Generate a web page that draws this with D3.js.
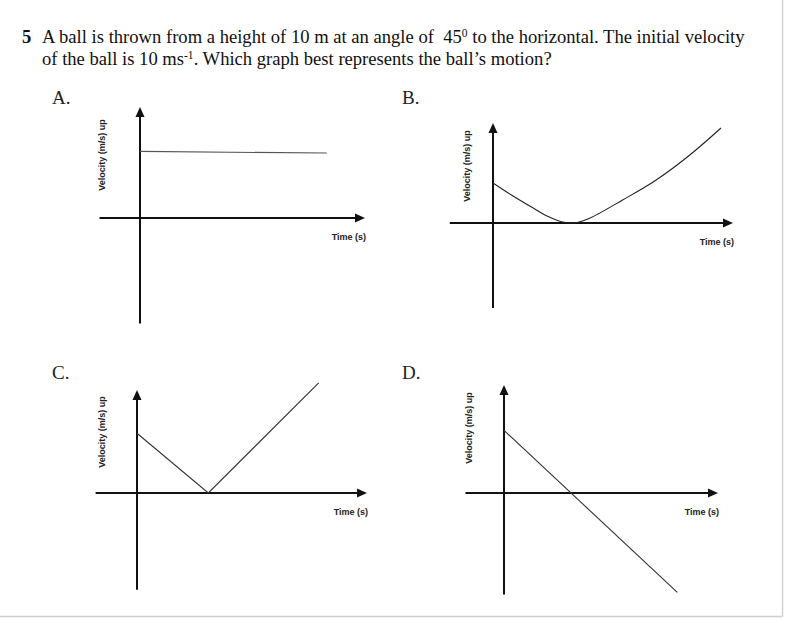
<!DOCTYPE html>
<html><head><meta charset="utf-8">
<script src="https://cdn.jsdelivr.net/npm/d3@7"></script>
<style>body{margin:0;background:#fff}svg{display:block}</style>
</head><body>
<svg id="c" width="785" height="618"></svg>
<script>
// ---- data ----
const panelNames = ["A.", "B.", "C.", "D."];
const timeA = [0, 8.3];
const velA  = [6.0, 5.85];
const timeB = [0, 0.8, 1.6, 2.3, 2.9, 3.4, 4.0, 5.4, 6.8, 8.2, 9.5];
const velB  = [4.0, 2.75, 1.6, 0.65, 0.1, 0, 0.45, 2.3, 4.3, 6.8, 9.5];
const timeC = [0, 3.1, 7.9];
const velC  = [5.8, 0, 10.7];
const timeD = [0, 8.1];
const velD  = [5.8, -9.2];
const axisTimeMin = -1.8, axisTimeMax = 10;
const axisVelMax = 10;
const axisVelMin = [-9.5, -8.5, -9.4, -9.4];
const xLabel = "Time (s)";
const yLabel = "Velocity (m/s) up";
const questionNo = "5";

// ---- layout ----
const layout = [
  {ox:140, tx:365, oy:218, ty:107, lx:52,  ly:104, ylx:105, yly:155, curve:d3.curveLinear, stroke:"#555"},
  {ox:493, tx:733, oy:223, ty:123, lx:402, ly:104, ylx:470, yly:166, curve:d3.curveCatmullRom, stroke:"#222"},
  {ox:137, tx:367, oy:493, ty:390, lx:52,  ly:379, ylx:105, yly:432, curve:d3.curveLinear, stroke:"#333"},
  {ox:504, tx:718, oy:493, ty:385, lx:402, ly:379, ylx:472, yly:428, curve:d3.curveLinear, stroke:"#333"}
];
const series = [[timeA, velA], [timeB, velB], [timeC, velC], [timeD, velD]];

const svg = d3.select("#c");

// frame edges
svg.append("line").attr("x1",782.5).attr("x2",782.5).attr("y1",0).attr("y2",616.5).attr("stroke","#d0d0d0").attr("stroke-width",1.5);
svg.append("line").attr("x1",0).attr("x2",782.5).attr("y1",616.5).attr("y2",616.5).attr("stroke","#d0d0d0").attr("stroke-width",1.5);

// question text
const serif = "'Liberation Serif','Times New Roman',serif";
const fs = 18.6;
svg.append("text").attr("x",22).attr("y",43).attr("font-family",serif).attr("font-size",fs).attr("font-weight","bold").attr("fill","#111").text(questionNo);
const t1 = svg.append("text").attr("x",42).attr("y",43).attr("font-family",serif).attr("font-size",fs).attr("fill","#111");
t1.append("tspan").text("A ball is thrown from a height of 10 m at an angle of \u00a045");
t1.append("tspan").attr("dy",-6).attr("font-size",11.5).text("0");
t1.append("tspan").attr("dy",6).text(" to the horizontal. The initial velocity");
const t2 = svg.append("text").attr("x",42).attr("y",64.5).attr("font-family",serif).attr("font-size",fs).attr("fill","#111");
t2.append("tspan").text("of the ball is 10 ms");
t2.append("tspan").attr("dy",-6).attr("font-size",11.5).text("-1");
t2.append("tspan").attr("dy",6).text(". Which graph best represents the ball\u2019s motion?");

const sans = "'Liberation Sans',Arial,sans-serif";

layout.forEach((L, i) => {
  const g = svg.append("g");
  const x = d3.scaleLinear().domain([0, axisTimeMax]).range([L.ox, L.tx]);
  const y = d3.scaleLinear().domain([0, axisVelMax]).range([L.oy, L.ty]);
  const ah = 10, aw = 4.5;
  // panel letter
  g.append("text").attr("x",L.lx).attr("y",L.ly).attr("font-family",serif).attr("font-size",19).attr("fill","#222").text(panelNames[i]);
  // horizontal axis
  g.append("line").attr("x1",x(axisTimeMin)).attr("x2",x(axisTimeMax)-ah).attr("y1",y(0)).attr("y2",y(0))
    .attr("stroke","#111").attr("stroke-width",2);
  g.append("path").attr("d",`M${x(axisTimeMax)},${y(0)}L${x(axisTimeMax)-ah},${y(0)-aw}L${x(axisTimeMax)-ah},${y(0)+aw}Z`).attr("fill","#111");
  // vertical axis
  g.append("line").attr("x1",x(0)).attr("x2",x(0)).attr("y1",y(axisVelMin[i])).attr("y2",y(axisVelMax)+ah)
    .attr("stroke","#111").attr("stroke-width",2);
  g.append("path").attr("d",`M${x(0)},${y(axisVelMax)}L${x(0)-aw},${y(axisVelMax)+ah}L${x(0)+aw},${y(axisVelMax)+ah}Z`).attr("fill","#111");
  // series
  const [ts, vs] = series[i];
  const pts = ts.map((t, k) => [t, vs[k]]);
  g.append("path").datum(pts)
    .attr("d", d3.line().x(d => x(d[0])).y(d => y(d[1])).curve(L.curve))
    .attr("fill","none").attr("stroke",L.stroke).attr("stroke-width",1.1);
  // labels
  g.append("text").attr("x",x(axisTimeMax)+1).attr("y",y(0)+22).attr("text-anchor","end")
    .attr("font-family",sans).attr("font-weight","bold").attr("font-size",9).attr("fill","#222").text(xLabel);
  g.append("text").attr("transform",`translate(${L.ylx},${L.yly}) rotate(-90)`).attr("text-anchor","middle")
    .attr("font-family",sans).attr("font-weight","bold").attr("font-size",9).attr("fill","#222").text(yLabel);
});
</script>
</body></html>
